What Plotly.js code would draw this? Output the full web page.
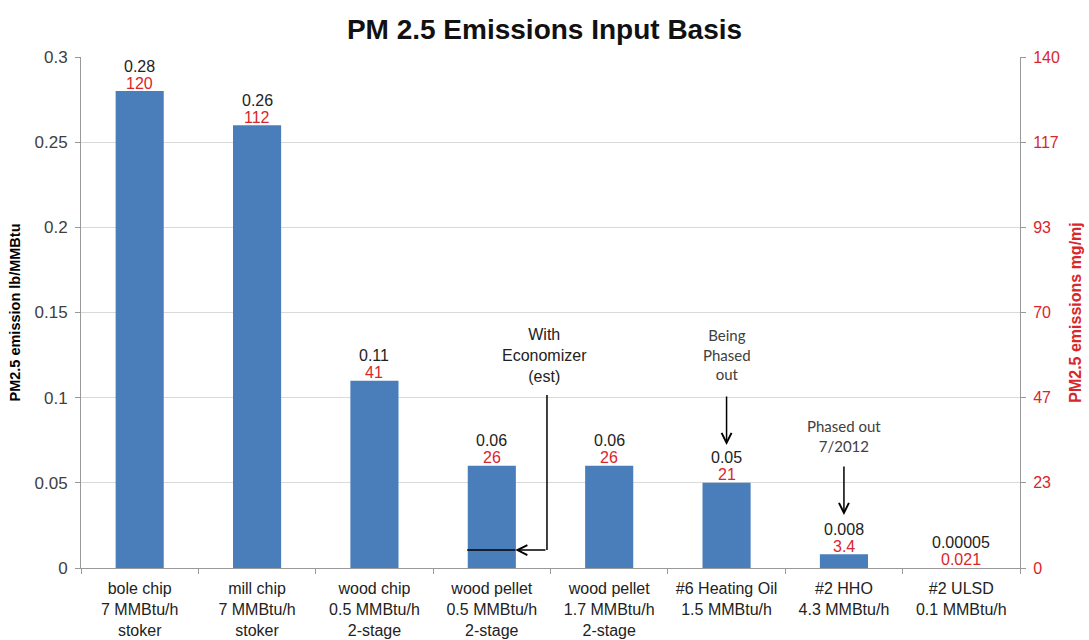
<!DOCTYPE html>
<html><head><meta charset="utf-8">
<script src="https://cdn.plot.ly/plotly-3.0.1.min.js"></script>
<style>body{margin:0;background:#fff}#c{width:1089px;height:640px}</style>
</head><body><div id="c"></div>
<script>
var categories = ["bole chip<br>7 MMBtu/h<br>stoker","mill chip<br>7 MMBtu/h<br>stoker","wood chip<br>0.5 MMBtu/h<br>2-stage","wood pellet<br>0.5 MMBtu/h<br>2-stage","wood pellet<br>1.7 MMBtu/h<br>2-stage","#6 Heating Oil<br>1.5 MMBtu/h","#2 HHO<br>4.3 MMBtu/h","#2 ULSD<br>0.1 MMBtu/h"];
var lbPerMMBtu = [0.28, 0.26, 0.11, 0.06, 0.06, 0.05, 0.008, 0.00005];
var lbLabels = ["0.28","0.26","0.11","0.06","0.06","0.05","0.008","0.00005"];
var mgPerMJ = [120, 112, 41, 26, 26, 21, 3.4, 0.021];
var mgLabels = ["120","112","41","26","26","21","3.4","0.021"];
var leftTicks = [0, 0.05, 0.1, 0.15, 0.2, 0.25, 0.3];
var leftTickText = ["0","0.05","0.1","0.15","0.2","0.25","0.3"];
var rightTicks = [0, 140/6, 280/6, 70, 560/6, 700/6, 140];
var rightTickText = ["0","23","47","70","93","117","140"];

var RED = "#d9262b";
var traces = [
  {type:"bar", x:categories, y:lbPerMMBtu, marker:{color:"#4a7ebb"}, hoverinfo:"skip"},
  {type:"scatter", mode:"markers", x:categories, y:mgPerMJ, yaxis:"y2", marker:{opacity:0}, hoverinfo:"skip", showlegend:false}
];

var ann = [];
for (var i=0;i<categories.length;i++){
  ann.push({x:categories[i], y:lbPerMMBtu[i], xref:"x", yref:"y", text:lbLabels[i], showarrow:false, yshift:25, font:{family:"Liberation Sans, Arial", size:16, color:"#222"}});
  ann.push({x:categories[i], y:lbPerMMBtu[i], xref:"x", yref:"y", text:mgLabels[i], showarrow:false, yshift:8, font:{family:"Liberation Sans, Arial", size:16, color:RED}});
}
// callouts
ann.push({x:3.45, y:0.125, xref:"x", yref:"y", text:"With<br>Economizer<br>(est)", showarrow:false, font:{family:"Liberation Sans, Arial", size:16, color:"#222"}});
ann.push({x:3.2, y:0.0105, ax:3.47, ay:0.0105, xref:"x", yref:"y", axref:"x", ayref:"y", text:"", showarrow:true, arrowhead:5, arrowsize:1.3, arrowwidth:1.5, arrowcolor:"#000"});
ann.push({x:5, y:0.1255, xref:"x", yref:"y", text:"Being<br>Phased<br>out", showarrow:false, font:{family:"Lato, Noto Sans", size:15, color:"#404040"}});
ann.push({x:5, y:0.0722, ax:5, ay:0.1016, xref:"x", yref:"y", axref:"x", ayref:"y", text:"", showarrow:true, arrowhead:5, arrowsize:1.3, arrowwidth:1.5, arrowcolor:"#000"});
ann.push({x:6, y:0.0775, xref:"x", yref:"y", text:"Phased out<br>7/2012", showarrow:false, font:{family:"Lato, Noto Sans", size:15, color:"#404040"}});
ann.push({x:6, y:0.0311, ax:6, ay:0.0605, xref:"x", yref:"y", axref:"x", ayref:"y", text:"", showarrow:true, arrowhead:5, arrowsize:1.3, arrowwidth:1.5, arrowcolor:"#000"});

var shapes = [
  {type:"line", xref:"x", yref:"y", x0:3.47, x1:3.47, y0:0.1016, y1:0.0105, line:{color:"#000", width:1.5}},
  {type:"line", xref:"x", yref:"y", x0:3.2, x1:2.79, y0:0.0105, y1:0.0105, line:{color:"#000", width:1.5}}
];

var layout = {
  width:1089, height:640,
  margin:{l:81, r:69, t:57, b:72},
  paper_bgcolor:"#fff", plot_bgcolor:"#fff",
  showlegend:false,
  bargap:0.59,
  title:{text:"PM 2.5 Emissions Input Basis", x:0.5, xanchor:"center", y:0.955, yanchor:"middle", font:{family:"Liberation Sans, Arial", size:28, color:"#111", weight:"bold"}},
  font:{family:"Liberation Sans, Arial"},
  xaxis:{type:"category", tickson:"boundaries", ticks:"outside", ticklen:5, tickcolor:"#999", showline:true, linecolor:"#999", linewidth:1, showgrid:false, tickfont:{size:16, color:"#222"}, ticklabelstandoff:6, fixedrange:true},
  yaxis:{range:[0,0.3], tickvals:leftTicks, ticktext:leftTickText, ticks:"outside", ticklen:5, tickcolor:"#999", showline:true, linecolor:"#999", gridcolor:"#d9d9d9", zeroline:false, tickfont:{size:17, color:"#404040"}, ticklabelstandoff:4,
    title:{text:"PM2.5 emission lb/MMBtu", font:{size:14.5, color:"#000", weight:"bold"}, standoff:10}},
  yaxis2:{overlaying:"y", side:"right", range:[0,140], tickvals:rightTicks, ticktext:rightTickText, ticks:"outside", ticklen:5, tickcolor:"#999", showline:true, linecolor:"#999", showgrid:false, zeroline:false, tickfont:{size:16, color:RED}, ticklabelstandoff:4,
    title:{text:"PM2.5 emissions mg/mj", font:{size:16, color:RED, weight:"bold"}, standoff:10}},
  annotations:ann,
  shapes:shapes
};
Plotly.newPlot("c", traces, layout, {displayModeBar:false, staticPlot:true});
</script></body></html>
